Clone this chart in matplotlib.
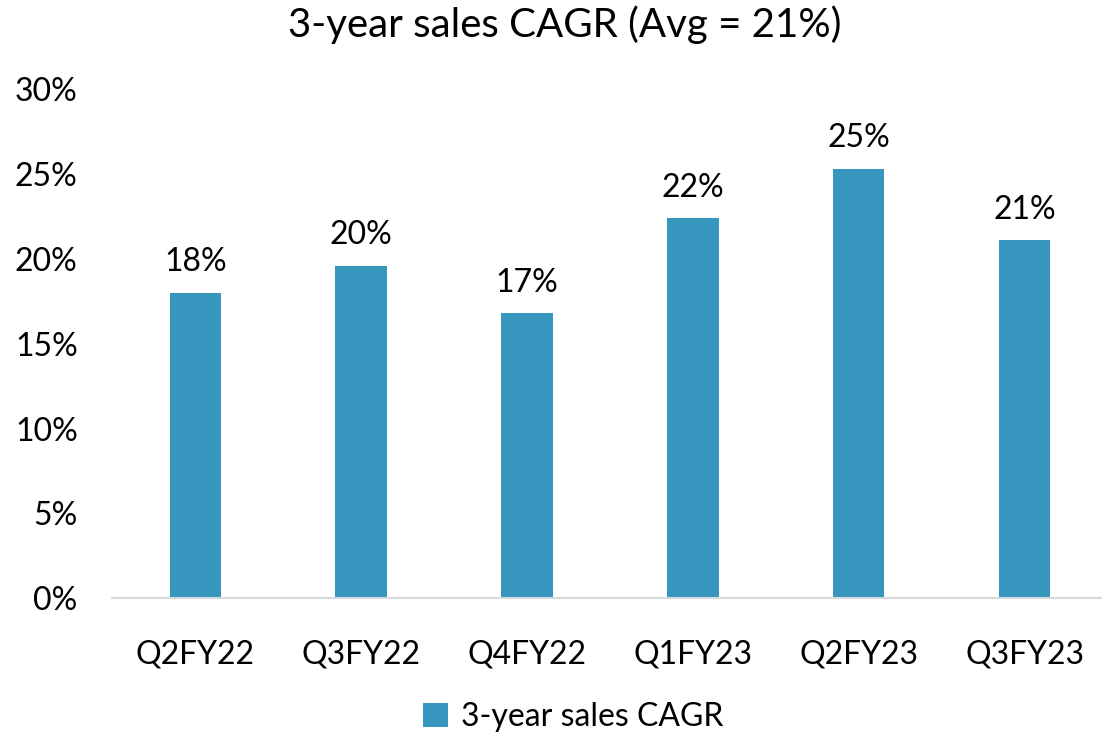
import numpy as np
import matplotlib.pyplot as plt
from matplotlib.ticker import FuncFormatter

plt.rcParams['font.family'] = ['Lato', 'DejaVu Sans']

# data
quarters = ["Q2FY22", "Q3FY22", "Q4FY22", "Q1FY23", "Q2FY23", "Q3FY23"]
cagr = [18.0, 19.6, 16.8, 22.4, 25.3, 21.1]
labels = ["18%", "20%", "17%", "22%", "25%", "21%"]
series_name = "3-year sales CAGR"
title = "3-year sales CAGR (Avg = 21%)"

bar_color = "#3796BE"

fig = plt.figure(figsize=(11.02, 7.35), dpi=100)
ax = fig.add_axes([0.102, 0.186, 0.903, 0.693])

x = np.arange(len(quarters))
bars = ax.bar(x, cagr, width=0.31, color=bar_color, label=series_name, zorder=2)

# value labels above bars
for xi, v, lab in zip(x, cagr, labels):
    ax.text(xi, v + 0.9, lab, ha="center", va="bottom", fontsize=23, color="black")

ax.set_xlim(-0.5, len(quarters) - 0.5)
ax.set_ylim(0, 30)
ax.set_yticks(np.arange(0, 31, 5))
ax.yaxis.set_major_formatter(FuncFormatter(lambda v, p: f"{v:.0f}%"))
ax.set_xticks(x)
ax.set_xticklabels(quarters)

ax.tick_params(axis="both", length=0, labelsize=23, colors="black")
ax.tick_params(axis="x", pad=30)
ax.tick_params(axis="y", pad=25)

for s in ["top", "right", "left"]:
    ax.spines[s].set_visible(False)
ax.spines["bottom"].set_color("#D9D9D9")
ax.spines["bottom"].set_linewidth(1.5)

fig.suptitle(title, fontsize=29, x=0.512, y=0.993, va="top")

fig.legend(handles=[bars], labels=[series_name], loc="lower center",
           bbox_to_anchor=(0.52, -0.035), frameon=False, fontsize=23,
           handlelength=0.8, handleheight=0.8, handletextpad=0.4)

fig.savefig("out.png", dpi=100)
